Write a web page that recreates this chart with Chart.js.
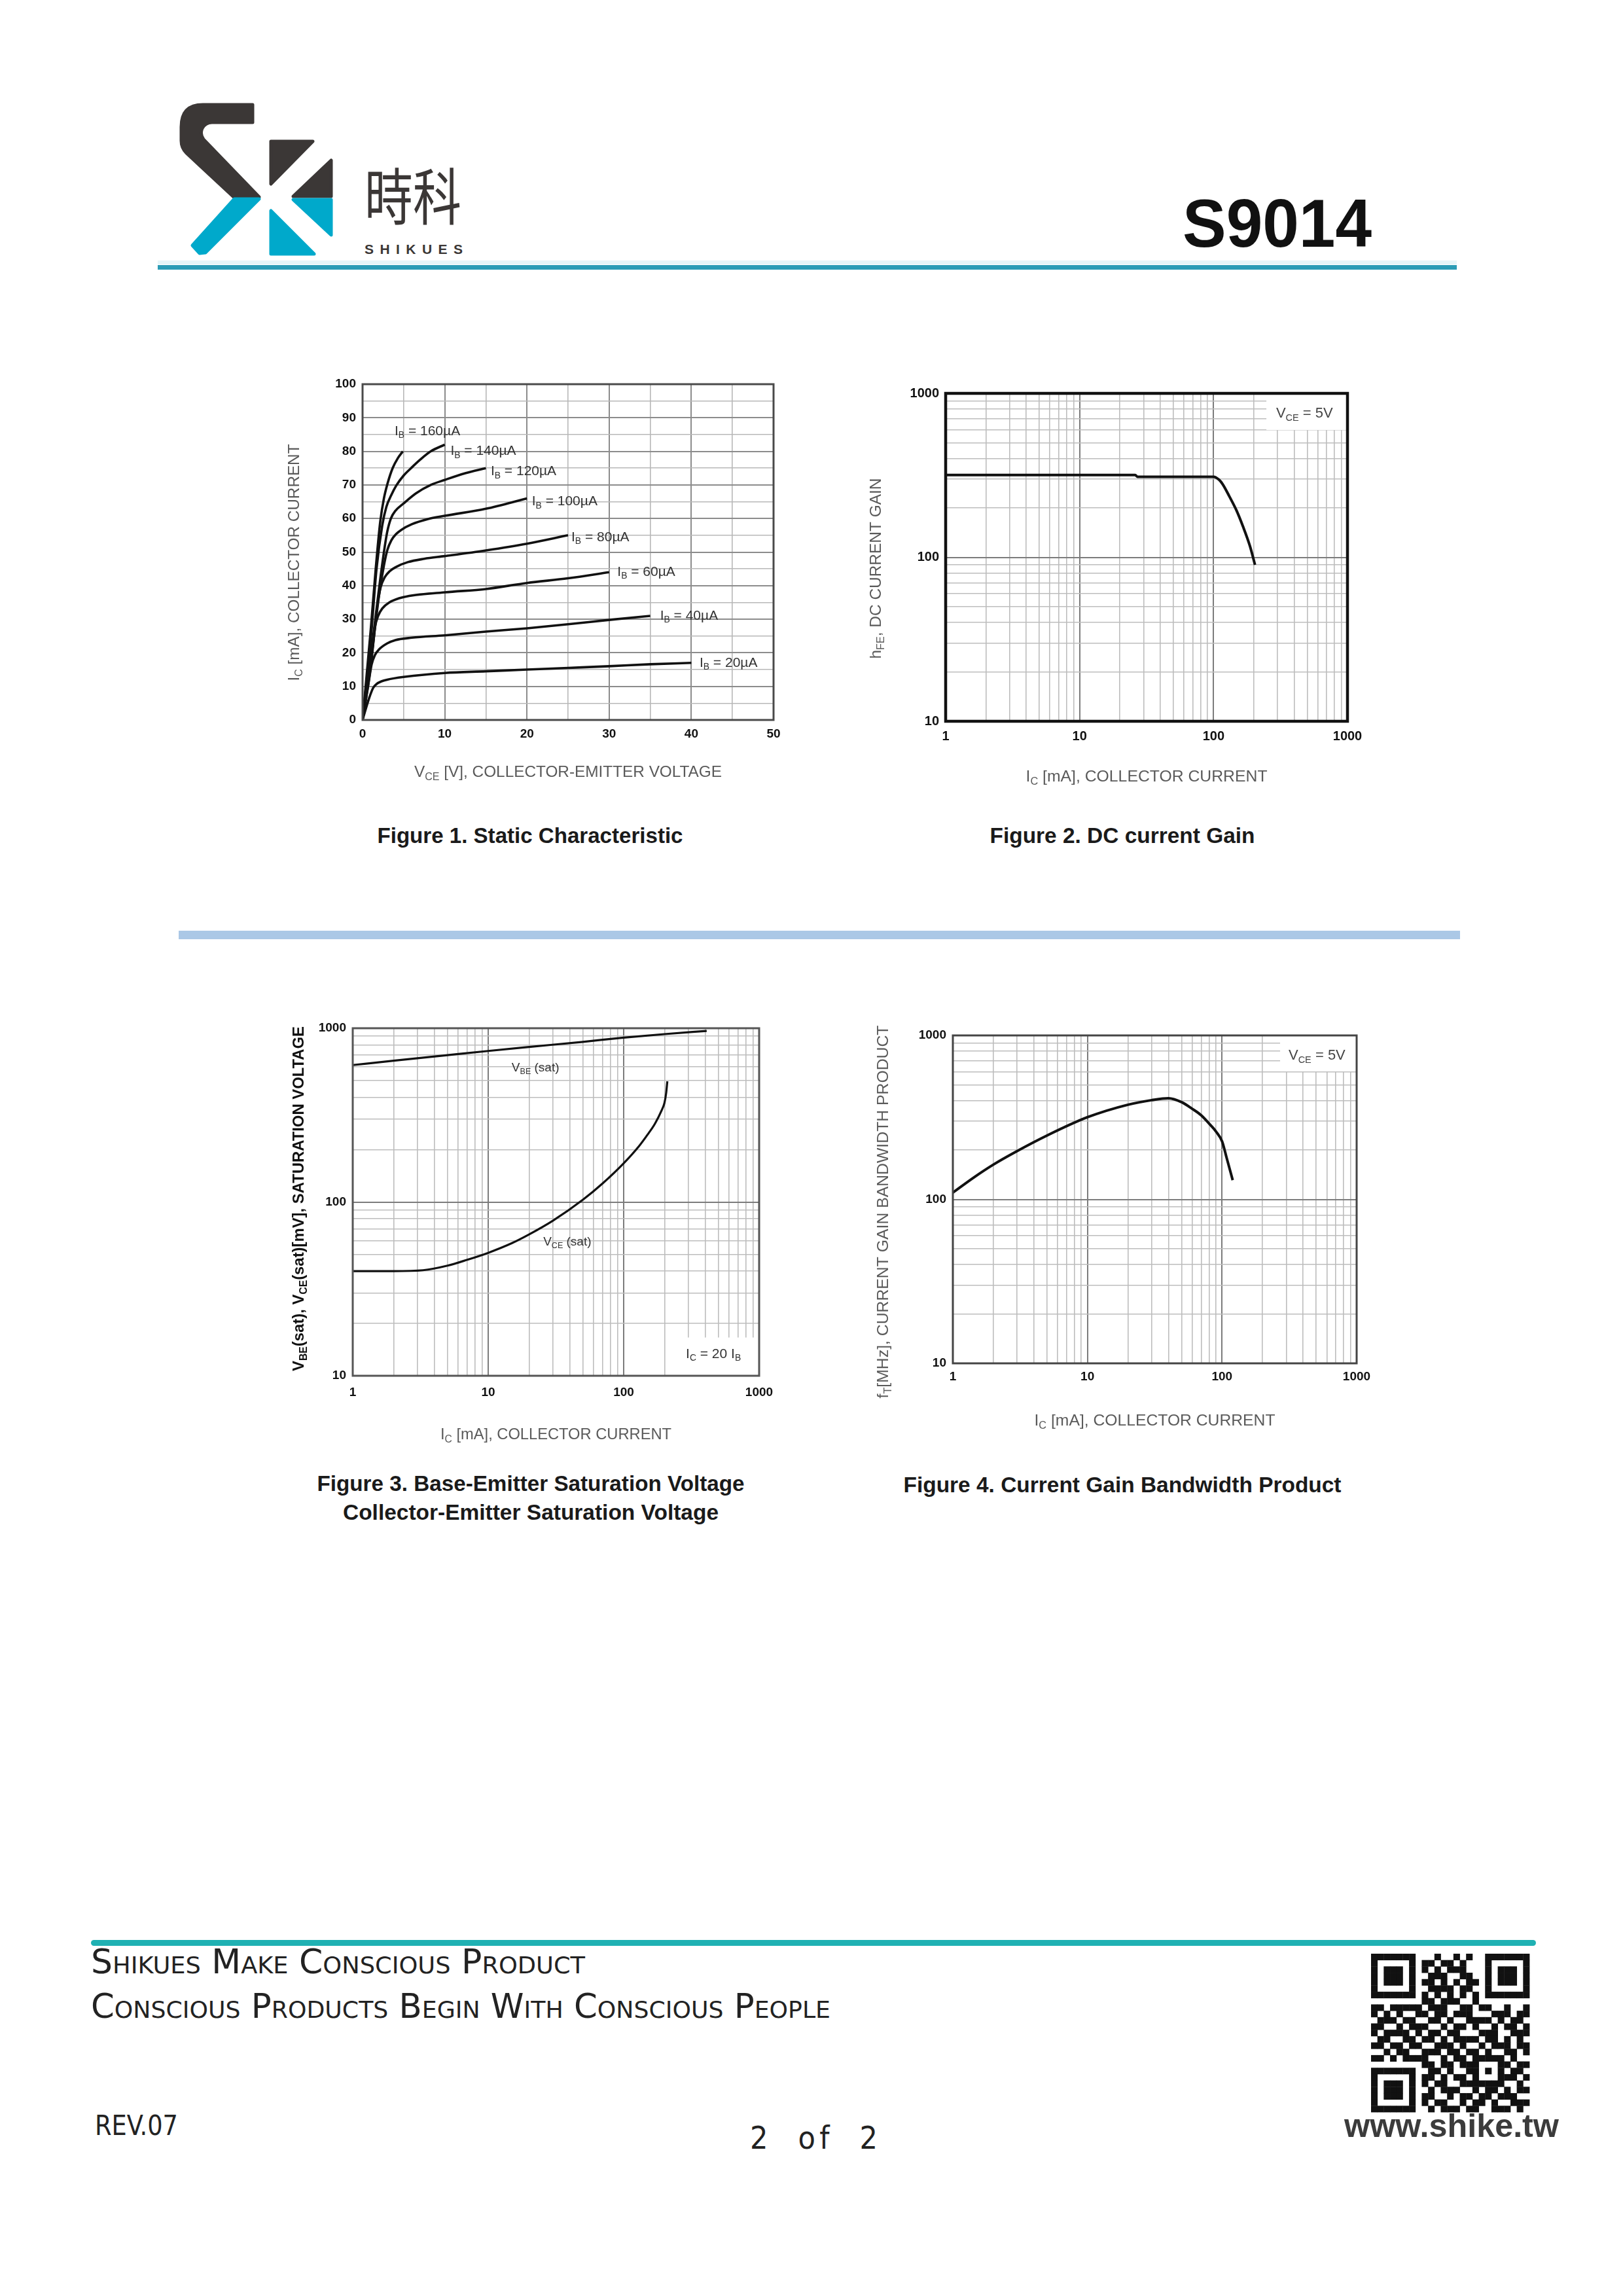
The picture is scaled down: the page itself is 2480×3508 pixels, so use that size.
<!DOCTYPE html>
<html lang="en">
<head>
<meta charset="utf-8">
<title>S9014</title>
<script src="https://cdn.jsdelivr.net/npm/chart.js@4.4.1/dist/chart.umd.min.js"></script>
<style>
  html, body { margin:0; padding:0; background:#fff; overflow:hidden; }
  #page { position:relative; width:2480px; height:3508px; overflow:hidden; background:#fff; }
  #page canvas { position:absolute; }
  #deco { position:absolute; left:0; top:0; }
</style>
</head>
<body>
<div id="page">
<svg id="deco" xmlns="http://www.w3.org/2000/svg" width="2480" height="3508" viewBox="0 0 2480 3508">
  <!-- logo -->
  <g stroke-linejoin="round" stroke-width="5">
    <path fill="#3b3736" stroke="#3b3736" d="M386,160 L310,160 Q277,160 277,194 L277,215 Q277,226 285,234 L357,301 L396,301 L311,213 Q305,205 309,196 Q314,187 324,187 L386,187 Z"/>
    <path fill="#00a9cb" stroke="#00a9cb" d="M358,304 L396,304 L314,386 L305,387 L294,375 Z"/>
    <path fill="#3b3736" stroke="#3b3736" d="M414,216 L478,216 L414,281 Z"/>
    <path fill="#3b3736" stroke="#3b3736" d="M506,245 L506,300 L448,300 Z"/>
    <path fill="#00a9cb" stroke="#00a9cb" d="M448,305 L506,305 L506,359 Z"/>
    <path fill="#00a9cb" stroke="#00a9cb" d="M414,322 L414,388 L480,388 Z"/>
  </g>
  <text x="557" y="336" font-family="'Noto Sans CJK TC','Noto Sans CJK SC',sans-serif" font-size="94" textLength="148" lengthAdjust="spacingAndGlyphs" fill="#3b3736">時科</text>
  <text x="557" y="388" font-family="'Liberation Sans',Arial,sans-serif" font-weight="bold" font-size="21" textLength="150" lengthAdjust="spacing" fill="#3b3736">SHIKUES</text>
  <text x="1807" y="377" font-family="'Liberation Sans',Arial,sans-serif" font-weight="bold" font-size="103" textLength="289" lengthAdjust="spacingAndGlyphs" fill="#111">S9014</text>
  <!-- header rule -->
  <rect x="241" y="398" width="1985" height="6" fill="#e6f5f8"/>
  <rect x="241" y="405" width="1985" height="7" fill="#2b9cb6"/>
  <!-- middle separator -->
  <rect x="273" y="1422" width="1958" height="13" fill="#abc8e6"/>
  <!-- captions -->
  <g font-family="'Liberation Sans',Arial,sans-serif" font-weight="bold" font-size="33" fill="#1a1a1a" text-anchor="middle">
    <text x="810" y="1288" textLength="467" lengthAdjust="spacingAndGlyphs">Figure 1. Static Characteristic</text>
    <text x="1715" y="1288" textLength="405" lengthAdjust="spacingAndGlyphs">Figure 2. DC current Gain</text>
    <text x="811" y="2278" textLength="653" lengthAdjust="spacingAndGlyphs">Figure 3. Base-Emitter Saturation Voltage</text>
    <text x="811" y="2322" textLength="574" lengthAdjust="spacingAndGlyphs">Collector-Emitter Saturation Voltage</text>
    <text x="1715" y="2280" textLength="669" lengthAdjust="spacingAndGlyphs">Figure 4. Current Gain Bandwidth Product</text>
  </g>
  <!-- footer -->
  <rect x="139" y="2964" width="2208" height="9" rx="4.5" fill="#1fb1b3"/>
  <g font-family="'DejaVu Sans Condensed','DejaVu Sans',sans-serif" font-stretch="condensed" fill="#222" style="font-variant:small-caps">
    <text x="139" y="3015" font-size="51" textLength="755" lengthAdjust="spacingAndGlyphs">Shikues Make Conscious Product</text>
    <text x="139" y="3083" font-size="51" textLength="1130" lengthAdjust="spacingAndGlyphs">Conscious Products Begin With Conscious People</text>
  </g>
  <text x="145" y="3262" font-family="'DejaVu Sans Condensed','DejaVu Sans',sans-serif" font-size="42" textLength="127" lengthAdjust="spacingAndGlyphs" fill="#222">REV.07</text>
  <text x="1146" y="3283" font-family="'DejaVu Sans Condensed','DejaVu Sans',sans-serif" font-size="48" textLength="195" lengthAdjust="spacing" fill="#222" xml:space="preserve">2  of  2</text>
  <text x="2054" y="3265" font-family="'Liberation Sans',Arial,sans-serif" font-weight="bold" font-size="50" textLength="328" lengthAdjust="spacingAndGlyphs" fill="#3b3b3b">www.shike.tw</text>
  <g id="qr" fill="#111"></g>
</svg>
</div>
<script>
// ================= DATA =================
// Figure 1 : Static characteristic (Ic [mA] vs Vce [V])
const fig1XGrid   = [0, 5, 10, 15, 20, 25, 30, 35, 40, 45, 50];
const fig1XLabels = [0, 10, 20, 30, 40, 50];
const fig1YGrid   = [0, 5, 10, 15, 20, 25, 30, 35, 40, 45, 50, 55, 60, 65, 70, 75, 80, 85, 90, 95, 100];
const fig1YLabels = [0, 10, 20, 30, 40, 50, 60, 70, 80, 90, 100];

const ib20V  = [0, 0.8, 1.3, 1.7, 2.3, 3, 5, 10, 15, 20, 25, 30, 35, 40];
const ib20I  = [0, 6.5, 9.6, 10.7, 11.5, 12, 12.8, 14, 14.5, 15, 15.5, 16, 16.6, 17];
const ib40V  = [0, 0.7, 1.1, 1.5, 2, 3, 4, 6, 10, 15, 20, 25, 30, 35];
const ib40I  = [0, 10.5, 16.5, 19.3, 21, 22.8, 23.8, 24.5, 25.2, 26.3, 27.3, 28.5, 29.8, 31];
const ib60V  = [0, 1, 1.5, 1.9, 2.4, 3.25, 5, 10, 15, 20, 25, 30];
const ib60I  = [0, 17, 27.5, 31, 33.2, 35, 36.6, 38, 39, 40.8, 42.2, 44];
const ib80V  = [0, 1, 1.8, 2.2, 2.7, 3.3, 4.1, 5.5, 7.5, 10, 15, 20, 25];
const ib80I  = [0, 16, 34, 39.5, 42.5, 44.3, 45.6, 47, 48, 48.8, 50.5, 52.5, 55];
const ib100V = [0, 1, 2, 2.6, 3, 3.5, 4.1, 4.7, 6, 7.9, 10, 15, 20];
const ib100I = [0, 17, 37, 46, 50.5, 53.5, 55.4, 56.6, 58.3, 59.8, 60.8, 62.9, 66];
const ib120V = [0, 1, 2, 2.6, 3, 3.45, 4, 5, 6.5, 8.3, 10, 12.5, 15];
const ib120I = [0, 19, 39, 50, 56, 60, 62.3, 64.5, 67.5, 70, 71.5, 73.5, 75];
const ib140V = [0, 1, 1.7, 2.4, 2.9, 3.5, 4.1, 5, 5.9, 7, 8.3, 10];
const ib140I = [0, 24, 45, 58, 63.5, 67, 69.8, 72.8, 75, 77.5, 80, 82];
const ib160V = [0, 1, 1.6, 2.15, 2.6, 3.05, 3.66, 4.3, 4.9];
const ib160I = [0, 27, 45, 59, 66, 70.5, 75, 78, 80];
const fig1BaseCurrents = ['20', '40', '60', '80', '100', '120', '140', '160'];
const fig1LabelAtV  = [41, 36.2, 31, 25.4, 20.6, 15.6, 10.7, 3.9];
const fig1LabelAtIc = [17, 31, 44, 54.4, 65, 74, 80, 86];

// Log axis grids and labels
const logGrid1to1000  = [1, 2, 3, 4, 5, 6, 7, 8, 9, 10, 20, 30, 40, 50, 60, 70, 80, 90, 100, 200, 300, 400, 500, 600, 700, 800, 900, 1000];
const logGrid10to1000 = [10, 20, 30, 40, 50, 60, 70, 80, 90, 100, 200, 300, 400, 500, 600, 700, 800, 900, 1000];
const logLabelsX = [1, 10, 100, 1000];
const logLabelsY = [10, 100, 1000];

// Figure 2 : DC current gain (hFE vs Ic [mA]), VCE = 5V
const fig2Ic  = [1, 5, 26, 27, 100, 110, 117, 131, 148, 166, 187, 204];
const fig2Hfe = [318, 318, 318, 310, 310, 297, 279, 236, 194, 154, 117, 90];

// Figure 3 : Saturation voltages [mV] vs Ic [mA], Ic = 20 Ib
const fig3VbeIc = [1, 2, 5, 10, 20, 50, 100, 200, 410];
const fig3VbeMv = [614, 650, 700, 740, 780, 835, 883, 925, 965];
const fig3VceIc = [1, 2, 3.3, 5, 7, 10, 15, 20, 30, 50, 70, 100, 130, 150, 170, 190, 200, 206, 210];
const fig3VceMv = [40, 40, 40.5, 43, 46.5, 51, 58, 65, 78, 103, 128, 167, 210, 244, 282, 335, 372, 425, 495];

// Figure 4 : Current gain bandwidth product fT [MHz] vs Ic [mA], VCE = 5V
const fig4Ic = [1, 1.43, 2, 3, 5, 10, 20, 30, 40, 50, 60, 70, 82, 90, 100, 108, 120];
const fig4Ft = [110, 136, 163, 197, 245, 317, 378, 403, 414, 392, 357, 326, 284, 260, 226, 180, 131];

// ================= DRAWING HELPERS =================
const FONT = "'Liberation Sans', Arial, Helvetica, sans-serif";
Chart.defaults.font.family = FONT;

function drawRich(ctx, segs, x, y, o) {
  const weight = o.weight || 'normal';
  const fontOf = sz => weight + ' ' + sz + 'px ' + FONT;
  const subScale = 0.66, subDy = o.size * 0.3;
  let total = 0;
  const parts = segs.map(s => {
    const sz = s.sub ? o.size * subScale : o.size;
    ctx.font = fontOf(sz);
    const w = ctx.measureText(s.t).width;
    total += w;
    return { t: s.t, sz, w, sub: s.sub };
  });
  ctx.save();
  ctx.translate(x, y);
  if (o.rotate) ctx.rotate(-Math.PI / 2);
  if (o.fit) ctx.scale(o.fit / total, 1);
  let cx = o.align === 'center' ? -total / 2 : 0;
  ctx.fillStyle = o.color || '#333';
  ctx.textAlign = 'left';
  ctx.textBaseline = 'middle';
  parts.forEach(p => {
    ctx.font = fontOf(p.sz);
    ctx.fillText(p.t, cx, p.sub ? subDy : 0);
    cx += p.w;
  });
  ctx.restore();
}

function annotPlugin(cfg) {
  return {
    id: 'annot',
    beforeDatasetsDraw(chart) {
      const { ctx, scales: { x, y } } = chart;
      ctx.save();
      ctx.fillStyle = '#fff';
      (cfg.boxes || []).forEach(b => {
        const x0 = x.getPixelForValue(b.x0), x1 = x.getPixelForValue(b.x1);
        const y0 = y.getPixelForValue(b.y0), y1 = y.getPixelForValue(b.y1);
        ctx.fillRect(Math.min(x0, x1), Math.min(y0, y1), Math.abs(x1 - x0), Math.abs(y1 - y0));
      });
      ctx.restore();
    },
    afterDatasetsDraw(chart) {
      const { ctx, chartArea: a, scales: { x, y } } = chart;
      ctx.save();
      ctx.strokeStyle = cfg.frame.color;
      ctx.lineWidth = cfg.frame.width;
      ctx.strokeRect(a.left, a.top, a.right - a.left, a.bottom - a.top);
      ctx.restore();
      (cfg.labels || []).forEach(l => {
        drawRich(ctx, l.segs, x.getPixelForValue(l.x), y.getPixelForValue(l.y),
          { size: l.size, color: l.color, align: 'left' });
      });
      const cx = (a.left + a.right) / 2, cy = (a.top + a.bottom) / 2;
      const xt = cfg.xTitle, yt = cfg.yTitle;
      drawRich(ctx, xt.segs, cx, a.bottom + xt.dy,
        { size: xt.size, color: xt.color, weight: xt.weight, align: 'center', fit: xt.len });
      drawRich(ctx, yt.segs, a.left - yt.dx, cy + yt.dy,
        { size: yt.size, color: yt.color, weight: yt.weight, align: 'center', rotate: true, fit: yt.len });
    }
  };
}

function axis(type, min, max, grid, labels, o) {
  const isMajor = c => c.tick && labels.includes(c.tick.value);
  return {
    type, min, max,
    afterBuildTicks: s => { s.ticks = grid.map(v => ({ value: v })); },
    ticks: {
      autoSkip: false, maxRotation: 0, minRotation: 0, padding: o.pad, color: '#111',
      font: { family: FONT, size: o.fs, weight: 'bold' },
      callback: v => labels.includes(v) ? String(v) : ''
    },
    grid: {
      drawTicks: false,
      color: c => isMajor(c) ? o.major : o.minor,
      lineWidth: c => isMajor(c) ? 2 : 1.6
    },
    border: { display: false }
  };
}

function curve(xs, ys, width) {
  return {
    data: xs.map((v, i) => ({ x: v, y: ys[i] })),
    showLine: true, borderColor: '#111', backgroundColor: '#111', borderWidth: width,
    pointRadius: 0, cubicInterpolationMode: 'monotone', fill: false
  };
}

function buildChart(box, datasets, xs, ys, cfg) {
  const padL = 190, padT = 30, padR = 60, padB = 130;
  const c = document.createElement('canvas');
  const w = box.R - box.L + padL + padR, h = box.B - box.T + padT + padB;
  c.width = w; c.height = h;
  c.style.left = (box.L - padL) + 'px';
  c.style.top = (box.T - padT) + 'px';
  document.getElementById('page').appendChild(c);
  xs.afterFit = s => { s.height = padB; };
  ys.afterFit = s => { s.width = padL; };
  return new Chart(c, {
    type: 'scatter',
    data: { datasets },
    options: {
      responsive: false, animation: false, events: [],
      layout: { padding: { left: 0, top: padT, right: padR, bottom: 0 } },
      plugins: { legend: { display: false }, tooltip: { enabled: false } },
      scales: { x: xs, y: ys }
    },
    plugins: [annotPlugin(cfg)]
  });
}

const S = t => ({ t });
const B = t => ({ t, sub: true });
const titleGray = '#5a5a5a';

// ================= FIGURE 1 =================
const fig1V = [ib20V, ib40V, ib60V, ib80V, ib100V, ib120V, ib140V, ib160V];
const fig1I = [ib20I, ib40I, ib60I, ib80I, ib100I, ib120I, ib140I, ib160I];
buildChart({ L: 554, T: 587, R: 1182, B: 1100 },
  fig1V.map((v, i) => curve(v, fig1I[i], 3.6)),
  axis('linear', 0, 50, fig1XGrid, fig1XLabels, { fs: 19, pad: 10, major: '#8c8c8c', minor: '#b8b8b8' }),
  axis('linear', 0, 100, fig1YGrid, fig1YLabels, { fs: 19, pad: 10, major: '#8c8c8c', minor: '#b8b8b8' }),
  {
    frame: { color: '#4a4a4a', width: 3 },
    labels: fig1BaseCurrents.map((ib, i) => ({
      segs: [S('I'), B('B'), S(' = ' + ib + 'µA')], x: fig1LabelAtV[i], y: fig1LabelAtIc[i], size: 21, color: '#333'
    })),
    xTitle: { segs: [S('V'), B('CE'), S(' [V], COLLECTOR-EMITTER VOLTAGE')], dy: 80, len: 470, size: 24, color: titleGray },
    yTitle: { segs: [S('I'), B('C'), S(' [mA], COLLECTOR CURRENT')], dx: 104, dy: 16, len: 362, size: 24, color: titleGray }
  });

// ================= FIGURE 2 =================
buildChart({ L: 1445, T: 601, R: 2059, B: 1102 },
  [curve(fig2Ic, fig2Hfe, 4)],
  axis('logarithmic', 1, 1000, logGrid1to1000, logLabelsX, { fs: 20, pad: 11, major: '#7c7c7c', minor: '#bdbdbd' }),
  axis('logarithmic', 10, 1000, logGrid10to1000, logLabelsY, { fs: 20, pad: 10, major: '#7c7c7c', minor: '#bdbdbd' }),
  {
    frame: { color: '#111', width: 4.5 },
    boxes: [{ x0: 248, x1: 1000, y0: 598, y1: 1000 }],
    labels: [{ segs: [S('V'), B('CE'), S(' = 5V')], x: 293, y: 752, size: 22, color: '#444' }],
    xTitle: { segs: [S('I'), B('C'), S(' [mA], COLLECTOR CURRENT')], dy: 85, len: 369, size: 24, color: titleGray },
    yTitle: { segs: [S('h'), B('FE'), S(', DC CURRENT GAIN')], dx: 106, dy: 17, len: 276, size: 24, color: titleGray }
  });

// ================= FIGURE 3 =================
buildChart({ L: 539, T: 1571, R: 1160, B: 2102 },
  [curve(fig3VbeIc, fig3VbeMv, 3.2), curve(fig3VceIc, fig3VceMv, 3.2)],
  axis('logarithmic', 1, 1000, logGrid1to1000, logLabelsX, { fs: 19, pad: 14, major: '#7c7c7c', minor: '#bdbdbd' }),
  axis('logarithmic', 10, 1000, logGrid10to1000, logLabelsY, { fs: 19, pad: 10, major: '#7c7c7c', minor: '#bdbdbd' }),
  {
    frame: { color: '#555', width: 3 },
    boxes: [{ x0: 250, x1: 1000, y0: 10, y1: 16.6 }],
    labels: [
      { segs: [S('V'), B('BE'), S(' (sat)')], x: 14.9, y: 589, size: 19, color: '#333' },
      { segs: [S('V'), B('CE'), S(' (sat)')], x: 25.5, y: 58.6, size: 19, color: '#333' },
      { segs: [S('I'), B('C'), S(' = 20 I'), B('B')], x: 288, y: 13.3, size: 21, color: '#333' }
    ],
    xTitle: { segs: [S('I'), B('C'), S(' [mA], COLLECTOR CURRENT')], dy: 90, len: 353, size: 24, color: titleGray },
    yTitle: { segs: [S('V'), B('BE'), S('(sat), V'), B('CE'), S('(sat)[mV], SATURATION VOLTAGE')], dx: 82, dy: -5, len: 527, size: 24, color: '#111', weight: 'bold' }
  });

// ================= FIGURE 4 =================
buildChart({ L: 1456, T: 1582, R: 2073, B: 2083 },
  [curve(fig4Ic, fig4Ft, 4)],
  axis('logarithmic', 1, 1000, logGrid1to1000, logLabelsX, { fs: 19, pad: 9, major: '#7c7c7c', minor: '#bdbdbd' }),
  axis('logarithmic', 10, 1000, logGrid10to1000, logLabelsY, { fs: 19, pad: 10, major: '#7c7c7c', minor: '#bdbdbd' }),
  {
    frame: { color: '#444', width: 3 },
    boxes: [{ x0: 270, x1: 1000, y0: 603, y1: 1000 }],
    labels: [{ segs: [S('V'), B('CE'), S(' = 5V')], x: 312, y: 752, size: 22, color: '#444' }],
    xTitle: { segs: [S('I'), B('C'), S(' [mA], COLLECTOR CURRENT')], dy: 88, len: 368, size: 24, color: titleGray },
    yTitle: { segs: [S('f'), B('T'), S('[MHz], CURRENT GAIN BANDWIDTH PRODUCT')], dx: 106, dy: 19, len: 570, size: 24, color: titleGray }
  });

// ================= QR decoration =================
(function () {
  const rows = [
    "1111111" + "0" + "001001010" + "0" + "1111111",
    "1000001" + "0" + "110110100" + "0" + "1000001",
    "1011101" + "0" + "101011100" + "0" + "1011101",
    "1011101" + "0" + "011100110" + "0" + "1011101",
    "1011101" + "0" + "110101011" + "0" + "1011101",
    "1000001" + "0" + "011110110" + "0" + "1000001",
    "1111111" + "0" + "101010101" + "0" + "1111111",
    "00000000" + "110111001" + "00000000",
    "1101111101110011011001001",
    "1010100110110111000111011",
    "0111011001101001111010110",
    "1100101110010110100101101",
    "1011110101101100011100111",
    "0110011011010111101101010",
    "1101101100111010010111011",
    "0010110011101101101001101",
    "1101011110010110111110100",
    "00000000" + "11011011" + "10001" + "1011",
    "1111111" + "0" + "01101001" + "10101" + "0110",
    "1000001" + "0" + "11010110" + "10001" + "1101",
    "1011101" + "0" + "10110011" + "11111" + "0010",
    "1011101" + "0" + "01011100" + "10110" + "1011",
    "1011101" + "0" + "11001011" + "01101" + "1100",
    "1000001" + "0" + "10110010" + "11010" + "0111",
    "1111111" + "0" + "01011101" + "10011" + "1010"
  ];
  const g = document.getElementById('qr');
  const x0 = 2095, y0 = 2985, m = 9.68;
  const ns = 'http://www.w3.org/2000/svg';
  rows.forEach((row, r) => {
    for (let c = 0; c < row.length; c++) {
      if (row[c] === '1') {
        const rc = document.createElementNS(ns, 'rect');
        rc.setAttribute('x', (x0 + c * m).toFixed(2));
        rc.setAttribute('y', (y0 + r * m).toFixed(2));
        rc.setAttribute('width', (m + 0.4).toFixed(2));
        rc.setAttribute('height', (m + 0.4).toFixed(2));
        g.appendChild(rc);
      }
    }
  });
})();
</script>
</body>
</html>
